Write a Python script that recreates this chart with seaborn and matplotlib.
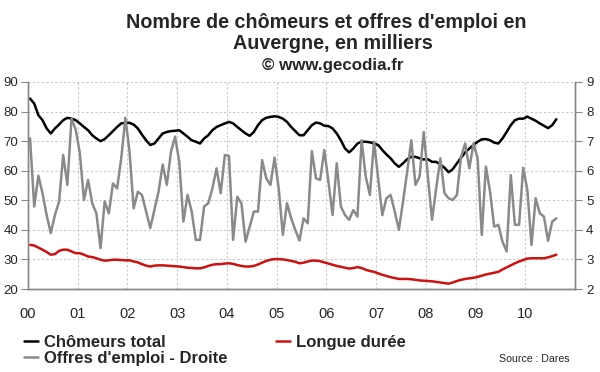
import numpy as np
import pandas as pd
import matplotlib
matplotlib.use("Agg")
import matplotlib.pyplot as plt
import seaborn as sns

# ---- data (monthly, Jan 2000 - Aug 2010) ----
chomeurs = [84.4, 82.7, 78.8, 77.1, 74.3, 72.6, 74.3, 75.6, 77.1, 77.9, 77.6, 77.1, 76.0, 74.8, 73.7, 72.0,
            70.9, 70.0, 70.7, 72.0, 73.4, 74.8, 76.0, 76.2, 76.2, 75.6, 74.3, 72.2, 70.3, 68.7, 69.2, 70.9, 72.6,
            73.1, 73.4, 73.5, 73.7, 72.6, 71.5, 70.3, 69.8, 69.2, 70.9, 72.0, 73.7, 74.8, 75.4, 76.0, 76.5, 76.0,
            74.8, 73.7, 72.6, 71.8, 73.1, 75.4, 77.1, 77.9, 78.2, 78.4, 78.2, 77.6, 76.5, 74.8, 73.4, 72.0,
            72.0, 73.7, 75.4, 76.3, 76.0, 75.2, 75.1, 74.3, 72.6, 70.3, 67.5, 66.2, 67.5, 69.2, 69.8, 69.8, 69.6,
            69.2, 68.7, 67.0, 65.5, 64.2, 62.5, 61.3, 62.5, 63.9, 64.7, 64.7, 64.2, 63.8, 63.9, 63.0,
            63.0, 62.1, 61.0, 59.5, 60.5, 62.5, 64.4, 66.2, 67.5, 68.7, 69.8, 70.6, 70.7, 70.3, 69.5, 69.2, 70.9,
            73.1, 75.4, 77.1, 77.6, 77.6, 78.3, 77.6, 76.9, 76.0, 75.2, 74.4, 75.4, 77.4]

longue = [34.9, 34.7, 34.0, 33.3, 32.5, 31.6, 31.8, 32.9, 33.3, 33.3, 32.7, 32.1, 32.1, 31.6, 31.0, 30.8,
          30.4, 29.9, 29.6, 29.7, 29.9, 29.9, 29.8, 29.7, 29.7, 29.3, 29.0, 28.4, 27.9, 27.6, 27.9, 28.0, 28.0,
          27.9, 27.8, 27.7, 27.6, 27.4, 27.2, 27.1, 27.0, 27.0, 27.3, 27.8, 28.2, 28.4, 28.4, 28.6, 28.7, 28.5,
          28.1, 27.8, 27.6, 27.6, 27.8, 28.3, 28.9, 29.5, 29.9, 30.1, 30.1, 30.0, 29.8, 29.5, 29.2,
          28.7, 28.9, 29.3, 29.6, 29.6, 29.4, 29.0, 28.6, 28.2, 27.8, 27.5, 27.2, 26.9, 27.1, 27.4, 27.1, 26.5,
          26.1, 25.8, 25.3, 24.8, 24.4, 24.0, 23.7, 23.4, 23.4, 23.4, 23.3, 23.1, 22.9, 22.8, 22.7,
          22.6, 22.4, 22.2, 22.0, 21.8, 22.2, 22.7, 23.1, 23.4, 23.6, 23.8, 24.1, 24.5, 24.9, 25.2, 25.5, 25.8,
          26.6, 27.3, 28.0, 28.7, 29.3, 29.8, 30.3, 30.4, 30.4, 30.4, 30.4, 30.7, 31.1, 31.6]

offres = [7.09, 4.79, 5.83, 5.24, 4.50, 3.89, 4.50, 4.96, 6.53, 5.52, 7.76, 7.40, 6.60, 5.01, 5.69, 4.90,
          4.56, 3.38, 4.96, 4.56, 5.57, 5.40, 6.42, 7.79, 6.64, 4.73, 5.29, 5.18, 4.62, 4.06, 4.67, 5.29, 6.21,
          5.52, 6.64, 7.15, 6.30, 4.28, 5.18, 4.62, 3.66, 3.66, 4.79, 4.90, 5.40, 6.08, 5.24, 6.53, 6.50, 3.66,
          5.12, 4.90, 3.60, 4.11, 4.62, 4.62, 6.36, 5.74, 5.52, 6.44, 5.40, 3.83, 4.90, 4.39, 4.00,
          3.64, 4.39, 4.22, 6.66, 5.74, 5.69, 6.70, 5.63, 4.50, 6.25, 4.79, 4.50, 4.34, 4.67, 4.45, 7.03, 5.80,
          5.18, 6.98, 5.74, 4.50, 5.07, 5.18, 4.62, 4.00, 4.96, 5.97, 7.03, 5.52, 5.80, 7.31, 5.80, 4.34,
          5.40, 6.42, 5.24, 5.07, 5.01, 5.18, 6.47, 6.92, 6.08, 6.92, 6.42, 3.83, 6.14, 5.29, 4.11, 4.17, 3.60,
          3.27, 5.85, 4.17, 4.17, 6.10, 5.35, 3.49, 5.07, 4.56, 4.45, 3.63, 4.28, 4.39]

annees = ['00', '01', '02', '03', '04', '05', '06', '07', '08', '09', '10']
left_ticks = [20, 30, 40, 50, 60, 70, 80, 90]
right_ticks = [2, 3, 4, 5, 6, 7, 8, 9]

titre1 = "Nombre de chômeurs et offres d'emploi en"
titre2 = "Auvergne, en milliers"
titre3 = "© www.gecodia.fr"
source = "Source : Dares"

# ---- frame ----
n = len(chomeurs)
mois = np.arange(n)
df = pd.DataFrame({
    "t": (mois + 0.5) / 12.0,
    "Chômeurs total": chomeurs,
    "Longue durée": longue,
    "Offres d'emploi - Droite": offres,
})

sns.set_style("white")
plt.rcParams['font.family'] = ['Liberation Sans', 'DejaVu Sans']

fig = plt.figure(figsize=(6.0, 3.72), dpi=100)
ax = fig.add_axes([28/600, 1 - 289/372, (575 - 28)/600, (289 - 82)/372])
ax2 = ax.twinx()

lw = 1.8
sns.lineplot(data=df, x="t", y="Chômeurs total", ax=ax, color="black", lw=lw, label="Chômeurs total", legend=False)
sns.lineplot(data=df, x="t", y="Longue durée", ax=ax, color="#cc1111", lw=lw, label="Longue durée", legend=False)
sns.lineplot(data=df, x="t", y="Offres d'emploi - Droite", ax=ax2, color="#8a8a8a", lw=lw,
             label="Offres d'emploi - Droite", legend=False)

ax.set_xlim(0, 11)
ax.set_ylim(20, 90)
ax2.set_ylim(2, 9)
ax.set_xlabel("")
ax.set_ylabel("")
ax2.set_ylabel("")

ax.set_yticks(left_ticks)
ax.set_yticklabels([str(v) for v in left_ticks], fontsize=9.5)
ax2.set_yticks(right_ticks)
ax2.set_yticklabels([str(v) for v in right_ticks], fontsize=9.5)

ax.set_xticks(np.arange(0, 12))
ax.set_xticklabels(annees + [""], fontsize=10.5)
ax.set_xticks(np.arange(0, 11.01, 0.25), minor=True)

spine_c = "#888888"
for a in (ax, ax2):
    for s in a.spines.values():
        s.set_color(spine_c)
        s.set_linewidth(1.0)
    a.spines['top'].set_visible(False)

ax.tick_params(axis='x', which='major', direction='out', length=5, color=spine_c, pad=8)
ax.tick_params(axis='x', which='minor', direction='out', length=4, color=spine_c)
ax.tick_params(axis='y', which='major', direction='out', length=5, color=spine_c, pad=2)
ax2.tick_params(axis='y', which='major', direction='out', length=5, color=spine_c, pad=3)

ax.grid(True, which='major', axis='both', linestyle=(0, (2, 2)), color="#c8c8c8", lw=0.8)
ax.set_axisbelow(True)

# titles
fig.text(326/600, 1 - 27.5/372, titre1, ha='center', va='baseline', fontsize=14.2, fontweight='bold')
fig.text(333/600, 1 - 49/372, titre2, ha='center', va='baseline', fontsize=14.2, fontweight='bold')
fig.text(333/600, 1 - 70/372, titre3, ha='center', va='baseline', fontsize=12.2, fontweight='bold')

# legend
h1, l1 = ax.get_legend_handles_labels()
h2, l2 = ax2.get_legend_handles_labels()
handles = [h1[0], h2[0], h1[1]]
labels = [l1[0], l2[0], l1[1]]
leg = fig.legend(handles, labels, ncol=2, loc='upper left', bbox_to_anchor=(12/600, 1 - 323/372),
                 frameon=False, prop={'size': 12, 'weight': 'bold'}, handlelength=0.85, handletextpad=0.35,
                 columnspacing=2.9, labelspacing=0.05, borderpad=0.2)

fig.text(499/600, 1 - 359/372, source, ha='left', va='center', fontsize=7.6)

fig.savefig("out.png", dpi=100)
